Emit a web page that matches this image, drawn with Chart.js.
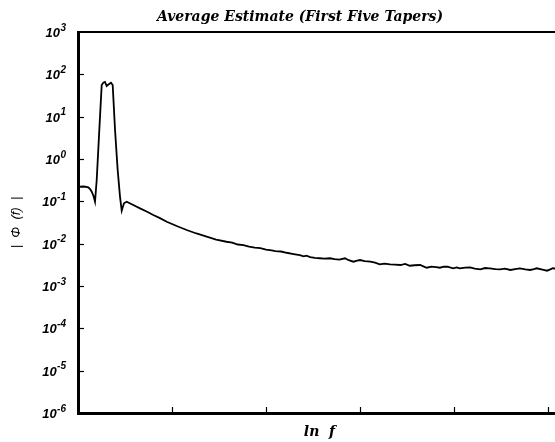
<!DOCTYPE html>
<html>
<head>
<meta charset="utf-8">
<script src="https://cdn.jsdelivr.net/npm/chart.js@4.4.1/dist/chart.umd.min.js"></script>
<style>
  html, body { margin: 0; padding: 0; background: #fff; overflow: hidden; }
  #wrap { width: 561px; height: 442px; }
</style>
</head>
<body>
<div id="wrap"><canvas id="myChart" width="561" height="442"></canvas></div>
<script>
// ln f (x) and |Phi(f)| (y)
var lnF = [
  0.000, 0.021, 0.064, 0.110, 0.128, 0.146, 0.165, 0.181, 0.199, 0.223,
  0.252, 0.269, 0.287, 0.305, 0.324, 0.351, 0.369, 0.394, 0.422, 0.447,
  0.465, 0.489, 0.518, 0.588, 0.660, 0.730, 0.801, 0.872, 0.944, 1.050,
  1.156, 1.260, 1.369, 1.470,
  1.58, 1.64, 1.70, 1.76, 1.82, 1.88, 1.94, 2.00, 2.06, 2.10,
  2.16, 2.22, 2.28, 2.31, 2.36, 2.40, 2.43, 2.47, 2.52, 2.57,
  2.62, 2.68, 2.73, 2.78, 2.84, 2.88, 2.93, 2.97, 3.00, 3.05,
  3.11, 3.16, 3.21, 3.26, 3.32, 3.37, 3.43, 3.48, 3.53, 3.58,
  3.64, 3.68, 3.71, 3.76, 3.81, 3.85, 3.89, 3.93, 3.99, 4.03,
  4.06, 4.12, 4.17, 4.22, 4.28, 4.33, 4.38, 4.44, 4.49, 4.54,
  4.60, 4.65, 4.70, 4.76, 4.81, 4.85, 4.88, 4.94, 4.99, 5.03,
  5.05, 5.12, 5.20, 5.26
];
var phi = [
  0.218, 0.221, 0.224, 0.214, 0.195, 0.169, 0.134, 0.098, 0.319, 3.37,
  56, 63.4, 65.9, 53, 57.5, 63.4, 56, 4.84, 0.55, 0.128,
  0.060, 0.090, 0.098, 0.082, 0.068, 0.0575, 0.0475, 0.0400, 0.0330, 0.0261,
  0.0210, 0.0174, 0.0146, 0.0125,
  1.11e-2, 1.06e-2, 9.55e-3, 9.23e-3, 8.51e-3, 8.02e-3, 7.85e-3, 7.24e-3, 6.92e-3, 6.70e-3,
  6.53e-3, 6.10e-3, 5.75e-3, 5.60e-3, 5.37e-3, 5.01e-3, 5.19e-3, 4.79e-3, 4.62e-3, 4.52e-3,
  4.42e-3, 4.52e-3, 4.32e-3, 4.22e-3, 4.51e-3, 4.07e-3, 3.75e-3, 3.98e-3, 4.11e-3, 3.89e-3,
  3.75e-3, 3.55e-3, 3.25e-3, 3.39e-3, 3.25e-3, 3.20e-3, 3.13e-3, 3.31e-3, 3.01e-3, 3.09e-3,
  3.13e-3, 2.88e-3, 2.70e-3, 2.88e-3, 2.79e-3, 2.70e-3, 2.85e-3, 2.85e-3, 2.62e-3, 2.75e-3,
  2.62e-3, 2.72e-3, 2.76e-3, 2.57e-3, 2.48e-3, 2.66e-3, 2.62e-3, 2.51e-3, 2.48e-3, 2.57e-3,
  2.39e-3, 2.51e-3, 2.62e-3, 2.48e-3, 2.39e-3, 2.51e-3, 2.62e-3, 2.45e-3, 2.30e-3, 2.51e-3,
  2.62e-3, 2.51e-3, 2.54e-3, 2.45e-3
];
var yExponents = [3, 2, 1, 0, -1, -2, -3, -4, -5, -6]; // tick labels 10^n
var xTicks = [1, 2, 3, 4, 5];
var titleText = 'Average Estimate (First Five Tapers)';
var xLabel = 'ln  f';
var yLabel = '|  \u03A6  (f)  |';

// draws inner tick marks, top frame, decade labels and title
var frameDeco = {
  id: 'frameDeco',
  afterDraw: function(chart) {
    var ctx = chart.ctx;
    var a = chart.chartArea;
    var xs = chart.scales.x;
    var ys = chart.scales.y;
    ctx.save();
    ctx.strokeStyle = '#000';
    ctx.fillStyle = '#000';

    ctx.lineWidth = 2;
    ctx.beginPath();
    ctx.moveTo(a.left - 1, a.top);
    ctx.lineTo(a.right, a.top);
    ctx.stroke();

    ctx.lineWidth = 1.2;
    yExponents.forEach(function(n) {
      var y = Math.round(ys.getPixelForValue(Math.pow(10, n))) + 0.5;
      if (n < 3 && n > -6) {
        ctx.beginPath();
        ctx.moveTo(a.left, y);
        ctx.lineTo(a.left + 6, y);
        ctx.stroke();
      }
    });
    xTicks.forEach(function(t) {
      var x = Math.round(xs.getPixelForValue(t)) + 0.5;
      ctx.beginPath();
      ctx.moveTo(x, a.bottom);
      ctx.lineTo(x, a.bottom - 6);
      ctx.stroke();
    });

    // decade labels: 10 with a raised exponent
    ctx.textBaseline = 'middle';
    yExponents.forEach(function(n) {
      var y = ys.getPixelForValue(Math.pow(10, n));
      var exp = String(n);
      ctx.font = 'italic bold 10px "Liberation Sans", Arial, sans-serif';
      var ew = ctx.measureText(exp).width;
      ctx.textAlign = 'right';
      ctx.fillText(exp, 66, y - 4);
      ctx.font = 'italic bold 13px "Liberation Sans", Arial, sans-serif';
      ctx.fillText('10', 66 - ew - 0.5, y + 1.5);
    });

    ctx.font = 'italic bold 14px "DejaVu Serif", serif';
    ctx.textAlign = 'center';
    ctx.fillText(titleText, 300, 17);
    ctx.restore();
  }
};

var ctx = document.getElementById('myChart').getContext('2d');
var myChart = new Chart(ctx, {
  type: 'line',
  data: {
    datasets: [{
      label: 'Average Estimate',
      data: lnF.map(function(x, i) { return {x: x, y: phi[i]}; }),
      borderColor: '#000',
      borderWidth: 1.8,
      pointRadius: 0,
      tension: 0,
      fill: false
    }]
  },
  options: {
    responsive: false,
    animation: false,
    devicePixelRatio: 1,
    layout: { padding: { top: 32, right: 0, bottom: 0, left: 0 } },
    plugins: { legend: { display: false }, tooltip: { enabled: false } },
    scales: {
      x: {
        type: 'linear',
        min: 0,
        max: 5.138,
        grid: { display: false },
        border: { display: true, color: '#000', width: 3 },
        ticks: { display: false },
        title: {
          display: true,
          text: xLabel,
          color: '#000',
          font: { family: '"DejaVu Serif", serif', size: 14, style: 'italic', weight: 'bold' },
          padding: { top: 0, bottom: 1 }
        },
        afterFit: function(s) { s.height = 29; }
      },
      y: {
        type: 'logarithmic',
        min: 1e-6,
        max: 1e3,
        grid: { display: false },
        border: { display: true, color: '#000', width: 3 },
        ticks: { display: false },
        title: {
          display: true,
          text: yLabel,
          color: '#000',
          font: { family: '"Liberation Sans", Arial, sans-serif', size: 13, style: 'italic' },
          padding: { top: 9, bottom: 0 }
        },
        afterFit: function(s) { s.width = 78; }
      }
    }
  },
  plugins: [frameDeco]
});
</script>
</body>
</html>
